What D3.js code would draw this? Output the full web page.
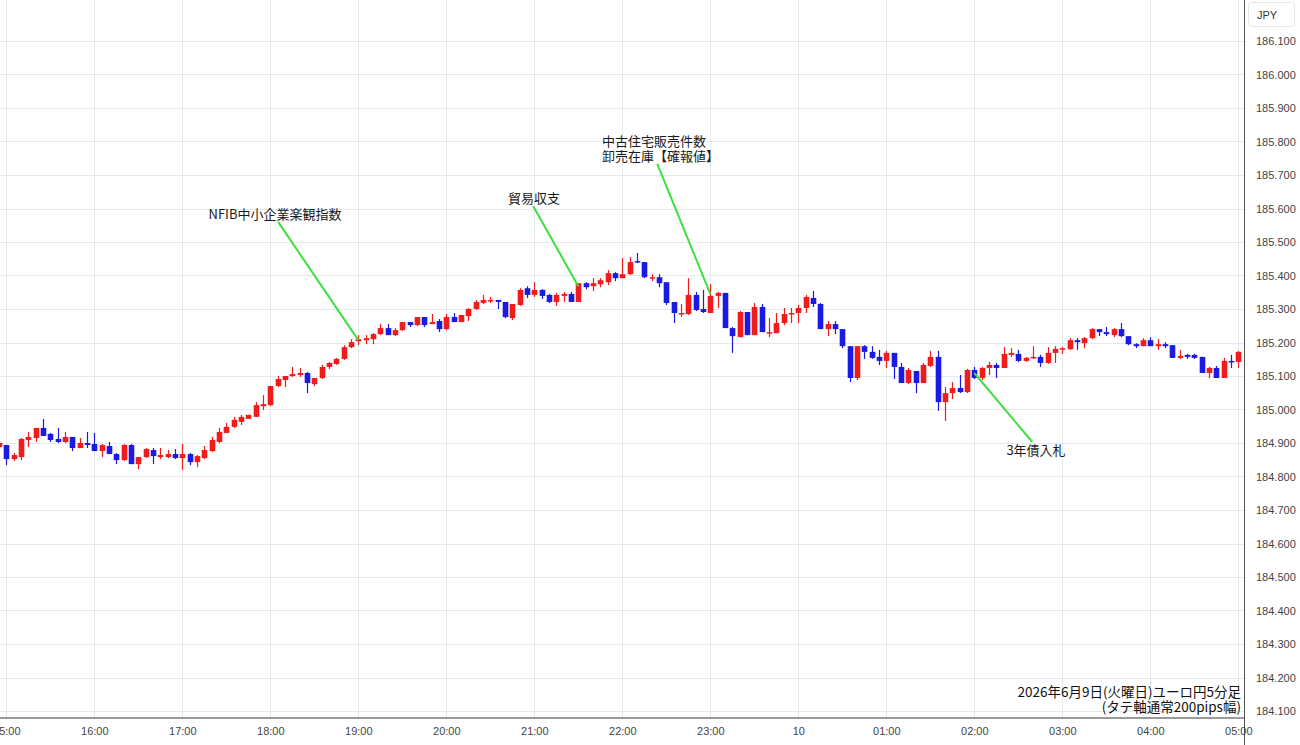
<!DOCTYPE html>
<html><head><meta charset="utf-8">
<script src="https://cdn.jsdelivr.net/npm/d3@7"></script>
<style>body{margin:0;background:#fff;overflow:hidden} svg{display:block}</style>
</head><body><svg id="c" width="1300" height="745"></svg>
<script>
// ---- data (EUR/JPY 5-minute candles, 2026-06-09 14:55 -> 2026-06-10 05:00) ----
const firstCandle = "2026-06-09 14:55";
const opens = [
184.888,184.894,184.852,184.858,184.909,184.915,184.945,184.927,184.912,184.903,184.918,184.885,184.900,
184.897,184.876,184.891,184.867,184.849,184.894,184.837,184.858,184.879,184.858,184.858,184.867,
184.855,184.867,184.843,184.855,184.876,184.903,184.930,184.948,184.963,184.972,184.978,185.010,
185.013,185.070,185.088,185.100,185.103,185.109,185.076,185.094,185.127,185.136,185.151,185.186,
185.204,185.207,185.210,185.225,185.243,185.222,185.237,185.261,185.252,185.276,185.255,185.264,
185.240,185.276,185.261,185.279,185.300,185.318,185.324,185.327,185.321,185.273,185.312,185.362,
185.342,185.357,185.342,185.321,185.339,185.345,185.321,185.377,185.368,185.374,185.380,185.407,
185.392,185.404,185.443,185.440,185.392,185.395,185.380,185.321,185.285,185.285,185.342,185.300,
185.288,185.339,185.348,185.243,185.216,185.291,185.222,185.306,185.228,185.228,185.258,185.285,
185.288,185.303,185.333,185.315,185.240,185.255,185.240,185.189,185.094,185.189,185.172,185.157,
185.145,185.169,185.127,185.079,185.115,185.079,185.130,185.157,185.022,185.049,185.064,185.052,
185.118,185.094,185.124,185.133,185.124,185.163,185.166,185.145,185.154,185.157,185.139,185.169,
185.180,185.180,185.207,185.198,185.213,185.240,185.231,185.222,185.240,185.219,185.195,185.189,
185.207,185.189,185.195,185.192,185.154,185.163,185.163,185.157,185.109,185.124,185.094,185.145,
185.142];
const highs = [
184.906,184.894,184.870,184.915,184.933,184.945,184.972,184.930,184.945,184.933,184.918,184.915,184.933,
184.930,184.897,184.903,184.870,184.897,184.897,184.858,184.885,184.885,184.885,184.879,184.882,
184.897,184.870,184.864,184.891,184.918,184.945,184.960,184.978,184.984,184.984,185.022,185.043,
185.070,185.100,185.100,185.127,185.124,185.112,185.094,185.133,185.142,185.154,185.192,185.210,
185.222,185.222,185.228,185.255,185.255,185.243,185.261,185.261,185.276,185.276,185.285,185.270,
185.285,185.288,185.282,185.303,185.327,185.342,185.336,185.327,185.321,185.315,185.362,185.368,
185.380,185.359,185.345,185.348,185.351,185.351,185.377,185.380,185.392,185.392,185.416,185.410,
185.452,185.455,185.467,185.440,185.404,185.404,185.380,185.321,185.315,185.392,185.351,185.357,
185.374,185.351,185.348,185.246,185.294,185.291,185.318,185.315,185.273,185.288,185.303,185.303,
185.312,185.342,185.354,185.318,185.264,185.264,185.240,185.189,185.189,185.192,185.189,185.178,
185.175,185.169,185.139,185.124,185.115,185.139,185.175,185.175,185.067,185.082,185.103,185.121,
185.127,185.127,185.142,185.139,185.186,185.183,185.178,185.157,185.189,185.163,185.186,185.189,
185.186,185.213,185.213,185.216,185.243,185.240,185.246,185.243,185.258,185.219,185.198,185.213,
185.216,185.210,185.201,185.192,185.178,185.166,185.166,185.157,185.127,185.130,185.154,185.163,
185.175];
const lows = [
184.882,184.834,184.846,184.849,184.888,184.903,184.921,184.903,184.900,184.900,184.876,184.885,184.885,
184.876,184.858,184.867,184.837,184.846,184.837,184.822,184.855,184.837,184.852,184.855,184.852,
184.819,184.834,184.828,184.852,184.873,184.900,184.930,184.945,184.954,184.972,184.978,184.999,
185.010,185.067,185.067,185.097,185.097,185.049,185.070,185.091,185.121,185.133,185.148,185.183,
185.192,185.195,185.195,185.222,185.222,185.219,185.234,185.246,185.249,185.246,185.255,185.231,
185.237,185.261,185.261,185.264,185.297,185.315,185.318,185.300,185.273,185.267,185.309,185.333,
185.336,185.330,185.318,185.309,185.321,185.321,185.321,185.359,185.354,185.365,185.371,185.383,
185.392,185.401,185.437,185.392,185.383,185.365,185.312,185.258,185.276,185.282,185.294,185.288,
185.288,185.303,185.243,185.169,185.216,185.222,185.222,185.231,185.216,185.228,185.252,185.258,
185.258,185.288,185.306,185.240,185.219,185.225,185.183,185.082,185.088,185.151,185.151,185.133,
185.124,185.091,185.079,185.076,185.049,185.079,185.127,184.996,184.966,185.031,185.049,185.049,
185.091,185.088,185.103,185.094,185.124,185.157,185.142,185.142,185.151,185.127,185.136,185.139,
185.166,185.178,185.178,185.183,185.210,185.219,185.219,185.216,185.216,185.192,185.183,185.189,
185.189,185.178,185.183,185.154,185.151,185.151,185.151,185.109,185.094,185.094,185.094,185.124,
185.124];
const closes = [
184.900,184.852,184.864,184.912,184.918,184.945,184.921,184.909,184.903,184.918,184.885,184.900,184.894,
184.876,184.894,184.867,184.849,184.894,184.837,184.858,184.882,184.861,184.864,184.867,184.855,
184.867,184.843,184.861,184.879,184.909,184.933,184.948,184.969,184.978,184.984,185.013,185.016,
185.070,185.091,185.100,185.106,185.109,185.079,185.094,185.127,185.139,185.151,185.186,185.201,
185.210,185.213,185.225,185.243,185.222,185.237,185.261,185.252,185.276,185.252,185.261,185.240,
185.276,185.261,185.282,185.300,185.321,185.327,185.327,185.321,185.276,185.315,185.357,185.342,
185.357,185.339,185.321,185.342,185.345,185.321,185.377,185.365,185.377,185.386,185.407,185.392,
185.404,185.440,185.440,185.395,185.395,185.377,185.318,185.288,185.288,185.342,185.297,185.291,
185.339,185.348,185.243,185.219,185.291,185.222,185.306,185.231,185.231,185.258,185.285,185.288,
185.303,185.336,185.315,185.240,185.255,185.240,185.189,185.094,185.189,185.172,185.154,185.145,
185.169,185.127,185.079,185.118,185.079,185.133,185.157,185.022,185.049,185.064,185.052,185.118,
185.094,185.124,185.133,185.124,185.166,185.169,185.145,185.154,185.157,185.139,185.169,185.181,
185.183,185.207,185.201,185.213,185.240,185.231,185.225,185.240,185.219,185.195,185.189,185.207,
185.189,185.195,185.189,185.154,185.160,185.157,185.154,185.109,185.124,185.094,185.145,185.142,
185.172];
const yTicks = [186.1,186.0,185.9,185.8,185.7,185.6,185.5,185.4,185.3,185.2,185.1,185.0,184.9,184.8,184.7,184.6,184.5,184.4,184.3,184.2,184.1];
const xTickTimes = ["2026-06-09 15:00","2026-06-09 16:00","2026-06-09 17:00","2026-06-09 18:00","2026-06-09 19:00","2026-06-09 20:00","2026-06-09 21:00","2026-06-09 22:00","2026-06-09 23:00","2026-06-10 00:00","2026-06-10 01:00","2026-06-10 02:00","2026-06-10 03:00","2026-06-10 04:00","2026-06-10 05:00"];
const xTickLabels = ["15:00","16:00","17:00","18:00","19:00","20:00","21:00","22:00","23:00","10","01:00","02:00","03:00","04:00","05:00"];
const eventLabels = [["NFIB中小企業楽観指数"],["貿易収支"],["中古住宅販売件数","卸売在庫【確報値】"],["3年債入札"]];
const eventTimes = ["2026-06-09 19:00","2026-06-09 21:30","2026-06-09 23:00","2026-06-10 02:00"];
const eventPrices = [185.207,185.368,185.345,185.109];
const captionLines = ["2026年6月9日(火曜日)ユーロ円5分足","(タテ軸通常200pips幅)"];
const unitLabel = "JPY";

// ---- drawing ----
const parse = d3.timeParse("%Y-%m-%d %H:%M");
const t0 = parse(firstCandle);
const candles = opens.map((o,i)=>({t:new Date(+t0 + i*300000), o, h:highs[i], l:lows[i], c:closes[i]}));

const W=1300,H=745, plotRight=1244, plotBottom=718;
const x = d3.scaleTime().domain([parse("2026-06-09 16:00"), parse("2026-06-10 05:00")]).range([94.3,1238.3]);
const y = d3.scaleLinear().domain([184.1,186.1]).range([711,41]);

const svg = d3.select("#c");
svg.append("rect").attr("width",W).attr("height",H).attr("fill","#fff");
svg.append("clipPath").attr("id","plot").append("rect").attr("x",0).attr("y",0).attr("width",plotRight).attr("height",plotBottom);

const grid = svg.append("g").attr("clip-path","url(#plot)").attr("shape-rendering","crispEdges");
grid.selectAll(".hg").data(yTicks).join("line")
  .attr("x1",0).attr("x2",plotRight).attr("y1",d=>Math.round(y(d))+0.5).attr("y2",d=>Math.round(y(d))+0.5)
  .attr("stroke","#e3e9ef").attr("stroke-width",1);
grid.selectAll(".vg").data(xTickTimes).join("line")
  .attr("x1",d=>Math.round(x(parse(d)))+0.5).attr("x2",d=>Math.round(x(parse(d)))+0.5).attr("y1",0).attr("y2",plotBottom)
  .attr("stroke","#e3e9ef").attr("stroke-width",1);

const RED="#f01c1c", BLUE="#1a1ae4";
const cg = svg.append("g").attr("clip-path","url(#plot)");
const bw=5.6;
const cs = cg.selectAll("g.c").data(candles).join("g");
cs.append("line")
  .attr("x1",d=>Math.round(x(d.t))+0.5).attr("x2",d=>Math.round(x(d.t))+0.5)
  .attr("y1",d=>y(d.h)).attr("y2",d=>y(d.l))
  .attr("stroke",d=>d.c>=d.o?RED:BLUE).attr("stroke-width",1.2);
cs.append("rect")
  .attr("x",d=>Math.round(x(d.t))+0.5-bw/2).attr("width",bw)
  .attr("y",d=>y(Math.max(d.o,d.c)))
  .attr("height",d=>Math.max(1.5, Math.abs(y(d.o)-y(d.c))))
  .attr("fill",d=>d.c>=d.o?RED:BLUE);

// annotations
const offs = [[-80,-118],[-45,-80],[-53,-130],[58,69]];
const textPos = [[275,219,"middle"],[534,203,"middle"],[602,146,"start"],[1036,455,"middle"]];
const ag = svg.append("g");
eventTimes.forEach((et,i)=>{
  const ex = x(parse(et)), ey = y(eventPrices[i]);
  ag.append("line").attr("x1",ex).attr("y1",ey).attr("x2",ex+offs[i][0]).attr("y2",ey+offs[i][1])
    .attr("stroke","#3ee03e").attr("stroke-width",2);
  const tx = ag.append("text").attr("x",textPos[i][0]).attr("y",textPos[i][1]).attr("text-anchor",textPos[i][2])
    .attr("font-family","'Noto Sans CJK JP', sans-serif").attr("font-size",13).attr("fill","#1a1a1a");
  eventLabels[i].forEach((s,j)=>tx.append("tspan").attr("x",textPos[i][0]).attr("dy",j?15:0).text(s));
});

// axes
svg.append("line").attr("x1",plotRight+0.5).attr("x2",plotRight+0.5).attr("y1",0).attr("y2",H).attr("stroke","#555").attr("stroke-width",1);
svg.append("rect").attr("x",0).attr("y",plotBottom-1).attr("width",plotRight).attr("height",2).attr("fill","#9a9a9a");

const yAxis = d3.axisRight(y).tickValues(yTicks).tickFormat(d3.format(".3f")).tickSize(0).tickPadding(12);
const ya = svg.append("g").attr("transform",`translate(${plotRight},0)`).call(yAxis);
ya.select(".domain").remove();
ya.selectAll("text").attr("font-family","'Liberation Sans', Arial, sans-serif").attr("font-size",11).attr("fill","#444");

const xAxis = d3.axisBottom(x).tickValues(xTickTimes.map(parse)).tickFormat((d,i)=>xTickLabels[i]).tickSize(0).tickPadding(9);
const xa = svg.append("g").attr("transform",`translate(0,${plotBottom})`).call(xAxis);
xa.select(".domain").remove();
xa.selectAll("text").attr("font-family","'Liberation Sans', Arial, sans-serif").attr("font-size",11).attr("fill","#444");

// unit box
svg.append("rect").attr("x",1248.5).attr("y",2.5).attr("width",46).attr("height",24).attr("rx",3)
  .attr("fill","#fff").attr("stroke","#e6e6e6");
svg.append("text").attr("x",1267).attr("y",19).attr("text-anchor","middle")
  .attr("font-family","'Liberation Sans', Arial, sans-serif").attr("font-size",11).attr("fill","#333").text(unitLabel);

// caption
const cap = svg.append("text").attr("text-anchor","end").attr("font-family","'Noto Sans CJK JP', sans-serif")
  .attr("font-size",13.5).attr("fill","#111");
captionLines.forEach((s,j)=>cap.append("tspan").attr("x",1241).attr("y",697+j*15).text(s));
</script></body></html>
